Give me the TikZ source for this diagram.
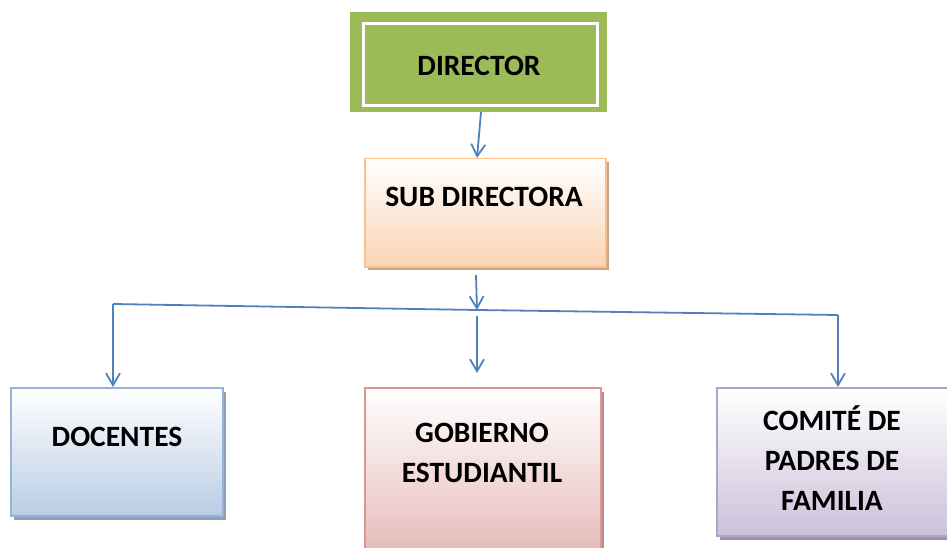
\documentclass[tikz,border=0pt]{standalone}
\usepackage{fontspec}
\setmainfont{Carlito}
\usetikzlibrary{arrows.meta}
\definecolor{dirgreen}{HTML}{9BBB59}
\definecolor{subline}{HTML}{FAC08F}
\definecolor{subfill}{HTML}{FBD4B4}
\definecolor{subshad}{HTML}{C9A487}
\definecolor{docline}{HTML}{95B3D7}
\definecolor{docfill}{HTML}{B9CDE5}
\definecolor{docshad}{HTML}{8FA1B8}
\definecolor{gobline}{HTML}{D99694}
\definecolor{gobfill}{HTML}{E6B9B8}
\definecolor{gobshad}{HTML}{B58A89}
\definecolor{comline}{HTML}{B3A2C7}
\definecolor{comfill}{HTML}{CCC1DA}
\definecolor{comshad}{HTML}{9C91A8}
\definecolor{linkblue}{HTML}{4F81BD}
\tikzset{
  box/.style={draw=#1line, line width=1.5pt, top color=white, bottom color=#1fill,
    anchor=north west, inner sep=0pt},
  boxshad/.style={fill=#1shad, anchor=north west, inner sep=0pt},
  txt/.style={font=\fontsize{29.5}{40}\selectfont\bfseries, align=center},
  link/.style={draw=linkblue, line width=1.8pt, -{Straight Barb[length=12pt,width=14pt,line width=1.8pt]}},
  wire/.style={draw=linkblue, line width=1.8pt}
}
\begin{document}
\begin{tikzpicture}[x=1pt,y=-1pt]
\useasboundingbox (0,0) rectangle (947,548);
\clip (0,0) rectangle (947,548);
% director
\node[fill=dirgreen, anchor=north west, minimum width=257pt, minimum height=100pt, inner sep=0pt] (dir) at (350,12) {};
\node[draw=white, line width=3pt, anchor=north west, minimum width=234pt, minimum height=82pt, inner sep=0pt] (dirin) at (362,22) {};
\node[txt] (dirtxt) at (479,66) {DIRECTOR};
% sub directora
\node[boxshad=sub, minimum width=241pt, minimum height=108pt] (subsh) at (368,162) {};
\node[box=sub, minimum width=241pt, minimum height=108pt] (sub) at (364,158) {};
\node[txt] (subtxt) at (484,197) {SUB DIRECTORA};
% docentes
\node[boxshad=doc, minimum width=212pt, minimum height=128pt] (docsh) at (14,392) {};
\node[box=doc, minimum width=212pt, minimum height=128pt] (doc) at (10,387) {};
\node[txt] (doctxt) at (117,437) {DOCENTES};
% gobierno
\node[boxshad=gob, minimum width=236pt, minimum height=170pt] (gobsh) at (368,392) {};
\node[box=gob, minimum width=236pt, minimum height=170pt] (gob) at (364,387) {};
\node[txt] (gobtxt) at (482,453) {GOBIERNO\\ESTUDIANTIL};
% comite
\node[boxshad=com, minimum width=240pt, minimum height=148pt] (comsh) at (720,392) {};
\node[box=com, minimum width=240pt, minimum height=148pt] (com) at (716,387) {};
\node[txt] (comtxt) at (832,458) {COMITÉ DE\\PADRES DE\\FAMILIA};
% conectores
\coordinate (hl) at (113,304);
\coordinate (hm) at (477,310);
\coordinate (hr) at (838,315);
\coordinate (mtop) at (477,316);
\draw[link] (481,112) -- (sub.north -| 477,0);
\draw[link] (476,275) -- (hm);
\draw[wire] (hl) -- (hm) -- (hr);
\draw[link] (hl) -- (doc.north -| hl);
\draw[link] (mtop) -- (477,373);
\draw[link] (hr) -- (com.north -| hr);
\end{tikzpicture}
\end{document}
